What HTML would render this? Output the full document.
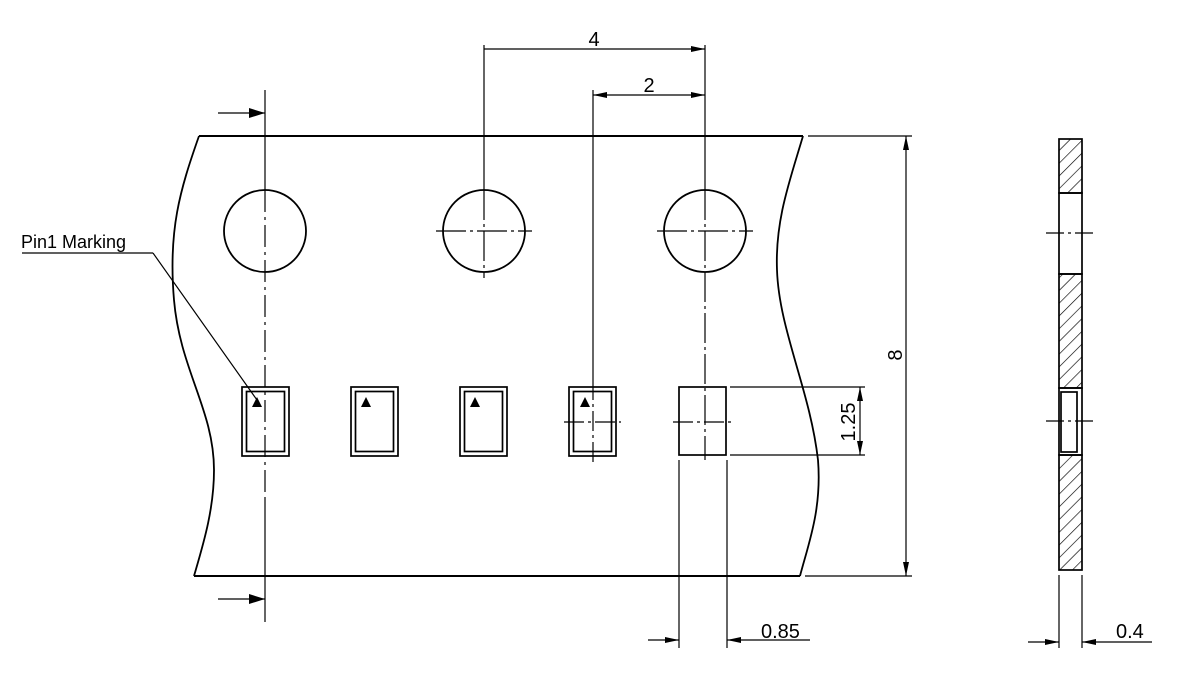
<!DOCTYPE html>
<html><head><meta charset="utf-8"><style>
html,body{margin:0;padding:0;background:#fff;}
svg{display:block;}
text{font-family:"Liberation Sans",sans-serif;fill:#000;}
</style></head><body>
<svg width="1200" height="675" viewBox="0 0 1200 675" xmlns="http://www.w3.org/2000/svg">
<defs>
<pattern id="h" patternUnits="userSpaceOnUse" width="9" height="9" patternTransform="rotate(45)">
<line x1="0" y1="0" x2="0" y2="9" stroke="#000" stroke-width="1.3"/>
</pattern>
</defs>
<g fill="none" stroke="#000">
<path d="M199,136 L803,136" stroke-width="2"/>
<path d="M194,576 L800,576" stroke-width="2"/>
<path d="M199,136 C180,190 168,230 174,300 C180,370 214,410 214,470 C214,510 203,545 194,576" stroke-width="1.8"/>
<path d="M803,136 C790,180 775,220 777,270 C779,330 810,390 818,460 C822,510 808,545 800,576" stroke-width="1.8"/>
<circle cx="265" cy="231" r="41" stroke-width="1.8"/>
<circle cx="484" cy="231" r="41" stroke-width="1.8"/>
<circle cx="705" cy="231" r="41" stroke-width="1.8"/>
<g stroke-width="1.2">
<line x1="265" y1="90" x2="265" y2="190"/>
<line x1="265" y1="190" x2="265" y2="500" stroke-dasharray="22,5,3,5"/>
<line x1="265" y1="500" x2="265" y2="622"/>
<line x1="484" y1="45" x2="484" y2="190"/>
<line x1="484" y1="190" x2="484" y2="278" stroke-dasharray="30,4,3,4"/>
<line x1="436" y1="231" x2="532" y2="231" stroke-dasharray="30,4,3,4"/>
<line x1="705" y1="45" x2="705" y2="190"/>
<line x1="705" y1="190" x2="705" y2="460" stroke-dasharray="30,4,3,4"/>
<line x1="657" y1="231" x2="753" y2="231" stroke-dasharray="30,4,3,4"/>
<line x1="593" y1="90" x2="593" y2="380"/>
<line x1="593" y1="380" x2="593" y2="462" stroke-dasharray="20,4,3,4"/>
<line x1="564" y1="422" x2="621" y2="422" stroke-dasharray="20,4,3,4"/>
<line x1="673" y1="422" x2="731" y2="422" stroke-dasharray="20,4,3,4"/>
</g>
<g stroke-width="1.7">
<rect x="242" y="387" width="47" height="69"/><rect x="246.5" y="391.5" width="38" height="60"/>
<rect x="351" y="387" width="47" height="69"/><rect x="355.5" y="391.5" width="38" height="60"/>
<rect x="460" y="387" width="47" height="69"/><rect x="464.5" y="391.5" width="38" height="60"/>
<rect x="569" y="387" width="47" height="69"/><rect x="573.5" y="391.5" width="38" height="60"/>
<rect x="679" y="387" width="47" height="68"/>
</g>
<g stroke-width="1.2">
<line x1="484" y1="49" x2="705" y2="49"/>
<line x1="593" y1="95" x2="705" y2="95"/>
<line x1="808" y1="136" x2="912" y2="136"/>
<line x1="805" y1="576" x2="912" y2="576"/>
<line x1="906" y1="136" x2="906" y2="576"/>
<line x1="730" y1="387" x2="865" y2="387"/>
<line x1="730" y1="455" x2="865" y2="455"/>
<line x1="860" y1="387" x2="860" y2="455"/>
<line x1="679" y1="460" x2="679" y2="648"/>
<line x1="727" y1="460" x2="727" y2="648"/>
<line x1="648" y1="640" x2="679" y2="640"/>
<line x1="727" y1="640" x2="810" y2="640"/>
<line x1="218" y1="113" x2="265" y2="113"/>
<line x1="218" y1="599" x2="265" y2="599"/>
<line x1="22" y1="253" x2="153" y2="253"/>
<line x1="153" y1="253" x2="257" y2="400"/>
</g>
<rect x="1059" y="139" width="23" height="54" fill="url(#h)" stroke-width="1.7"/>
<rect x="1059" y="193" width="23" height="81" stroke-width="1.7"/>
<rect x="1059" y="274" width="23" height="114" fill="url(#h)" stroke-width="1.7"/>
<rect x="1059" y="388" width="23" height="67" stroke-width="1.7"/>
<rect x="1061" y="392" width="16" height="60" stroke-width="1.7"/>
<rect x="1059" y="455" width="23" height="115" fill="url(#h)" stroke-width="1.7"/>
<g stroke-width="1.2">
<line x1="1046" y1="233" x2="1096" y2="233" stroke-dasharray="18,4,3,4"/>
<line x1="1046" y1="421" x2="1096" y2="421" stroke-dasharray="18,4,3,4"/>
<line x1="1059" y1="575" x2="1059" y2="648"/>
<line x1="1082" y1="575" x2="1082" y2="648"/>
<line x1="1028" y1="642" x2="1059" y2="642"/>
<line x1="1082" y1="642" x2="1152" y2="642"/>
</g>
</g>
<g fill="#000" stroke="none">
<polygon points="265,113 249,108 249,118"/>
<polygon points="265,599 249,594 249,604"/>
<polygon points="705,49 691,46 691,52"/>
<polygon points="593,95 607,92 607,98"/>
<polygon points="705,95 691,92 691,98"/>
<polygon points="906,136 903,150 909,150"/>
<polygon points="906,576 903,562 909,562"/>
<polygon points="860,387 857,401 863,401"/>
<polygon points="860,455 857,441 863,441"/>
<polygon points="679,640 665,637 665,643"/>
<polygon points="727,640 741,637 741,643"/>
<polygon points="1059,642 1045,639 1045,645"/>
<polygon points="1082,642 1096,639 1096,645"/>
<polygon points="257,397 252,407 262,407"/>
<polygon points="366,397 361,407 371,407"/>
<polygon points="475,397 470,407 480,407"/>
<polygon points="585,397 580,407 590,407"/>
</g>
<text x="594" y="46" font-size="20" text-anchor="middle">4</text>
<text x="649" y="92" font-size="20" text-anchor="middle">2</text>
<text x="21" y="248" font-size="18">Pin1 Marking</text>
<text x="761" y="638" font-size="20">0.85</text>
<text x="1116" y="638" font-size="20">0.4</text>
<text transform="translate(902,355) rotate(-90)" font-size="20" text-anchor="middle">8</text>
<text transform="translate(855,422) rotate(-90)" font-size="20" text-anchor="middle">1.25</text>
</svg>
</body></html>
